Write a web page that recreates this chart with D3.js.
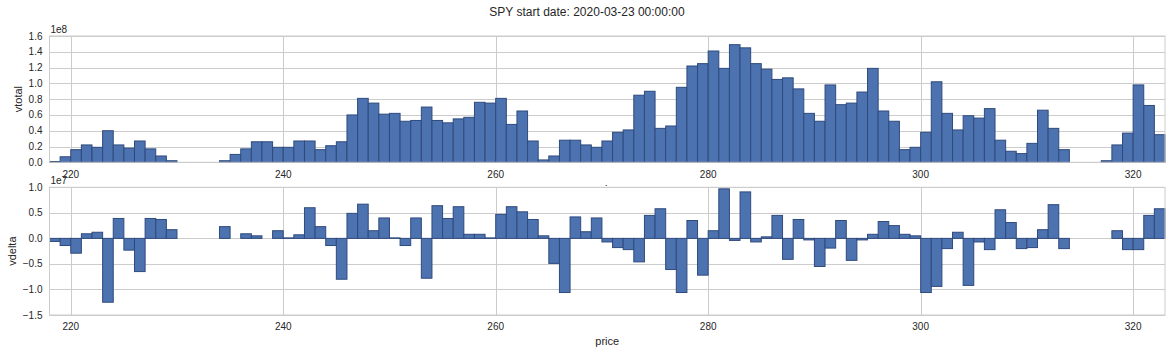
<!DOCTYPE html>
<html>
<head>
<meta charset="utf-8">
<script src="https://cdn.jsdelivr.net/npm/d3@7"></script>
<style>
  body { margin: 0; background: #fff; }
  text { font-family: "Liberation Sans", Arial, sans-serif; fill: #262626; }
</style>
</head>
<body>
<div class="container"></div>
<script>
// price bins (left edge, width 1)
var prices = [
  218, 219, 220, 221, 222, 223, 224, 225, 226, 227, 228, 229, 230, 231, 232,
  233, 234, 235, 236, 237, 238, 239, 240, 241, 242, 243, 244, 245, 246, 247,
  248, 249, 250, 251, 252, 253, 254, 255, 256, 257, 258, 259, 260, 261, 262,
  263, 264, 265, 266, 267, 268, 269, 270, 271, 272, 273, 274, 275, 276, 277,
  278, 279, 280, 281, 282, 283, 284, 285, 286, 287, 288, 289, 290, 291, 292,
  293, 294, 295, 296, 297, 298, 299, 300, 301, 302, 303, 304, 305, 306, 307,
  308, 309, 310, 311, 312, 313, 314, 315, 316, 317, 318, 319, 320, 321, 322
]

// total volume, units of 1e8
var vtotal = [
  0.01, 0.07, 0.16, 0.22, 0.19, 0.40, 0.22, 0.18, 0.27, 0.17, 0.08, 0.02, 0, 0, 0,
  0, 0.02, 0.10, 0.17, 0.26, 0.26, 0.19, 0.19, 0.27, 0.27, 0.16, 0.21, 0.26, 0.60, 0.81,
  0.75, 0.61, 0.62, 0.52, 0.53, 0.70, 0.53, 0.50, 0.55, 0.57, 0.76, 0.75, 0.81, 0.48, 0.65,
  0.27, 0.03, 0.08, 0.28, 0.28, 0.22, 0.19, 0.27, 0.38, 0.41, 0.85, 0.90, 0.43, 0.46, 0.95,
  1.22, 1.25, 1.41, 1.19, 1.49, 1.45, 1.25, 1.18, 1.05, 1.07, 0.93, 0.62, 0.52, 0.98, 0.73,
  0.75, 0.89, 1.19, 0.65, 0.52, 0.16, 0.19, 0.38, 1.02, 0.62, 0.41, 0.59, 0.56, 0.68, 0.28,
  0.14, 0.11, 0.24, 0.66, 0.43, 0.16, 0, 0, 0, 0.02, 0.22, 0.37, 0.98, 0.72, 0.35
]

// volume delta, units of 1e7
var vdelta = [
  -0.06, -0.14, -0.29, 0.09, 0.12, -1.25, 0.39, -0.23, -0.65, 0.39, 0.37, 0.17, 0, 0, 0,
  0, 0.23, 0, 0.09, 0.05, 0, 0.15, 0.01, 0.07, 0.60, 0.23, -0.14, -0.80, 0.49, 0.67,
  0.15, 0.40, 0.01, -0.14, 0.40, -0.78, 0.64, 0.39, 0.62, 0.08, 0.08, 0.01, 0.47, 0.62, 0.52,
  0.37, 0.05, -0.49, -1.06, 0.42, 0.13, 0.40, -0.07, -0.18, -0.22, -0.46, 0.45, 0.58, -0.61, -1.06,
  0.35, -0.72, 0.15, 0.97, -0.04, 0.91, -0.07, 0.03, 0.45, -0.41, 0.37, -0.03, -0.55, -0.19, 0.35,
  -0.43, -0.03, 0.08, 0.33, 0.25, 0.08, 0.05, -1.06, -0.94, -0.20, 0.12, -0.92, -0.07, -0.22, 0.56,
  0.31, -0.20, -0.18, 0.17, 0.66, -0.20, 0, 0, 0, 0, 0.15, -0.22, -0.22, 0.45, 0.58
]

var xTicks = [220, 240, 260, 280, 300, 320]
var topTicks = [0.0, 0.2, 0.4, 0.6, 0.8, 1.0, 1.2, 1.4, 1.6]
var botTicks = [-1.5, -1.0, -0.5, 0.0, 0.5, 1.0]

var W = 1172, H = 354
var left = 49.5, right = 1165

var svg = d3.select('.container')
  .append('svg')
    .attr('width', W)
    .attr('height', H)

svg.append('text')
  .attr('x', W / 2 + 1)
  .attr('y', 16)
  .attr('text-anchor', 'middle')
  .style('font-size', '12px')
  .text('SPY start date: 2020-03-23 00:00:00')

var x = d3.scaleLinear().domain([218, 323]).range([left, right])

function fmt(v) {
  return d3.format('.1f')(v).replace('-', '\u2212')
}

function panel(top, bottom, domain, ticks, values, ylabel, labelX, expo, tickY) {
  var y = d3.scaleLinear().domain(domain).range([bottom, top])
  var g = svg.append('g')

  g.append('rect')
    .attr('x', left).attr('y', top)
    .attr('width', right - left).attr('height', bottom - top)
    .attr('fill', '#fff')

  // grid
  g.selectAll('.hg').data(ticks).enter().append('line')
    .attr('x1', left).attr('x2', right)
    .attr('y1', function(d) { return Math.round(y(d)) + 0.5 })
    .attr('y2', function(d) { return Math.round(y(d)) + 0.5 })
    .attr('stroke', '#cccccc')
  g.selectAll('.vg').data(xTicks).enter().append('line')
    .attr('y1', top).attr('y2', bottom)
    .attr('x1', function(d) { return Math.round(x(d)) + 0.5 })
    .attr('x2', function(d) { return Math.round(x(d)) + 0.5 })
    .attr('stroke', '#cccccc')

  var data = prices.map(function(p, i) { return [p, values[i]] })
    .filter(function(d) { return d[1] !== 0 })

  g.selectAll('.bar').data(data).enter().append('rect')
    .attr('x', function(d) { return x(d[0]) })
    .attr('width', function(d) { return x(d[0] + 1) - x(d[0]) })
    .attr('y', function(d) { return y(Math.max(0, d[1])) })
    .attr('height', function(d) { return Math.abs(y(d[1]) - y(0)) })
    .attr('fill', '#4c72b0')
    .attr('stroke', '#2f4a7d')
    .attr('stroke-width', 1)

  // frame
  g.append('rect')
    .attr('x', left).attr('y', top)
    .attr('width', right - left).attr('height', bottom - top)
    .attr('fill', 'none')
    .attr('stroke', '#cccccc')

  g.selectAll('.yt').data(ticks).enter().append('text')
    .attr('x', left - 7)
    .attr('y', function(d) { return y(d) })
    .attr('dy', '0.35em')
    .attr('text-anchor', 'end')
    .style('font-size', '10px')
    .text(fmt)

  g.selectAll('.xt').data(xTicks).enter().append('text')
    .attr('x', function(d) { return x(d) })
    .attr('y', tickY)
    .attr('text-anchor', 'middle')
    .style('font-size', '10px')
    .text(function(d) { return d })

  g.append('text')
    .attr('x', left + 1)
    .attr('y', top - 3)
    .style('font-size', '10px')
    .text(expo)

  g.append('text')
    .attr('transform', 'translate(' + labelX + ',' + ((top + bottom) / 2) + ') rotate(-90)')
    .attr('text-anchor', 'middle')
    .style('font-size', '11px')
    .text(ylabel)
}

panel(36, 162.3, [0, 1.6], topTicks, vtotal, 'vtotal', 22, '1e8', 178)

// x label of the upper panel, mostly hidden behind the lower one
svg.append('text')
  .attr('x', (left + right) / 2)
  .attr('y', 193)
  .attr('text-anchor', 'middle')
  .style('font-size', '11px')
  .text('price')

panel(187.3, 315, [-1.5, 1.0], botTicks, vdelta, 'vdelta', 16, '1e7', 330)

svg.append('text')
  .attr('x', (left + right) / 2)
  .attr('y', 345)
  .attr('text-anchor', 'middle')
  .style('font-size', '11px')
  .text('price')
</script>
</body>
</html>
